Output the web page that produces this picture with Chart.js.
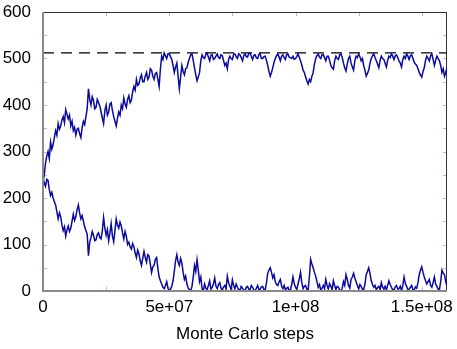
<!DOCTYPE html>
<html>
<head>
<meta charset="utf-8">
<script src="https://cdn.jsdelivr.net/npm/chart.js@4.4.1/dist/chart.umd.min.js"></script>
<style>
  html, body { margin: 0; padding: 0; background: #fff; }
  #wrap { width: 457px; height: 349px; }
</style>
</head>
<body>
<div id="wrap"><canvas id="c" width="457" height="349"></canvas></div>
<script>
// Monte Carlo run: two traces recorded every half million steps
const sampleInterval = 5e5;
const xMax = 1.6e8;
const saturation = 512;

const upper = [
  262,250,275,290,300,285,320,305,315,330,345,335,360,348,355,368,375,362,390,380,
  370,378,355,365,345,352,335,348,350,338,330,352,365,358,375,392,435,412,400,418,
  410,392,395,412,405,398,385,372,360,388,400,378,385,402,405,388,375,365,355,372,
  385,378,400,392,415,402,395,412,420,405,410,428,440,432,455,442,445,458,465,450,
  450,462,470,455,460,478,475,462,455,468,470,455,440,478,505,498,512,506,500,510,
  510,504,498,485,470,482,490,462,435,460,485,472,465,478,480,492,500,508,510,496,
  480,465,452,460,470,495,508,502,500,509,512,503,495,507,508,498,500,505,510,502,
  500,508,506,496,485,490,478,498,505,500,498,509,510,504,500,510,508,502,495,506,
  510,504,503,511,512,505,498,507,508,501,500,509,510,500,500,504,505,496,485,472,
  462,470,480,492,500,506,510,503,495,505,508,502,498,508,510,503,502,500,505,498,
  500,504,510,502,495,486,475,470,460,452,445,455,450,462,470,488,500,506,510,503,
  500,508,508,502,495,505,505,496,485,480,477,495,505,500,498,508,510,502,490,480,
  473,488,500,505,490,482,475,495,505,502,510,504,495,500,485,475,462,468,475,490,
  500,506,510,502,495,488,480,496,505,500,498,490,482,496,505,502,510,505,498,506,
  508,502,495,490,482,498,505,500,510,505,498,506,508,500,492,488,485,478,470,465,
  460,472,480,496,505,500,495,506,510,498,485,496,505,500,495,485,470,478,462,470,
  480];

const lower = [
  245,232,225,240,238,218,205,212,200,192,185,170,155,168,160,142,130,138,118,132,
  140,128,135,150,165,152,160,175,185,168,155,162,150,138,130,122,76,105,115,128,
  120,108,110,122,125,115,112,130,158,135,120,132,108,125,145,118,106,130,155,142,
  135,148,140,125,112,128,118,100,105,95,90,102,95,82,72,88,80,65,55,70,
  85,72,62,78,75,58,40,52,55,68,72,48,30,22,15,8,5,12,20,6,
  0,4,10,22,42,65,78,62,55,70,60,40,25,32,15,6,3,0,10,30,
  55,42,67,45,20,30,5,0,15,6,3,12,22,4,8,15,28,10,5,14,
  18,6,2,9,12,4,32,18,10,3,24,12,5,15,8,3,2,10,6,2,
  0,8,10,4,3,12,8,2,0,6,12,3,4,9,10,3,2,18,38,45,
  50,40,28,35,20,14,12,20,25,10,5,12,2,6,8,0,3,14,30,16,
  8,3,15,26,40,18,5,10,12,4,3,30,68,58,50,40,32,20,8,14,
  2,6,12,5,25,12,4,16,10,3,22,12,3,10,8,2,0,6,20,12,
  35,25,12,6,25,30,38,28,20,12,5,14,10,4,2,15,35,42,50,38,
  22,14,8,12,3,7,10,3,18,8,4,10,2,12,22,14,8,2,3,9,
  12,4,5,10,0,12,30,16,10,3,4,8,12,3,2,9,6,18,35,45,
  52,40,30,22,15,20,25,12,8,18,30,15,10,4,3,20,45,38,35,20,
  10];

const xTickValues = [0, 5e7, 1e8, 1.5e8];
const xTickLabels = ['0', '5e+07', '1e+08', '1.5e+08'];
const yTickValues = [0, 100, 200, 300, 400, 500, 600];
const xAxisTitle = 'Monte Carlo steps';

const toPoints = arr => arr.map((v, i) => ({ x: i * sampleInterval, y: v }));

const FONT = '"Liberation Sans", Arial, Helvetica, sans-serif';

// small inward ticks in magenta plus the plot border
const framePlugin = {
  id: 'frame',
  beforeDatasetsDraw(chart) {
    const { ctx, chartArea: a, scales } = chart;
    ctx.save();
    ctx.strokeStyle = '#ee9fe6';
    ctx.lineWidth = 1;
    const tl = 4;
    for (let v = 0; v <= 600; v += 50) {
      const py = Math.round(scales.y.getPixelForValue(v)) + 0.5;
      ctx.beginPath();
      ctx.moveTo(a.left, py); ctx.lineTo(a.left + tl, py);
      ctx.moveTo(a.right, py); ctx.lineTo(a.right - tl, py);
      ctx.stroke();
    }
    for (let v = 0; v <= xMax; v += 2.5e7) {
      const px = Math.round(scales.x.getPixelForValue(v)) + 0.5;
      ctx.beginPath();
      ctx.moveTo(px, a.bottom); ctx.lineTo(px, a.bottom - tl);
      ctx.moveTo(px, a.top); ctx.lineTo(px, a.top + tl);
      ctx.stroke();
    }
    ctx.strokeStyle = '#333';
    ctx.beginPath();
    ctx.moveTo(a.left, a.top + 0.5); ctx.lineTo(a.right, a.top + 0.5);
    ctx.moveTo(a.right - 0.5, a.top); ctx.lineTo(a.right - 0.5, a.bottom);
    ctx.stroke();
    ctx.restore();
  },
  afterDatasetsDraw(chart) {
    const { ctx, chartArea: a } = chart;
    ctx.save();
    ctx.strokeStyle = '#8a8a8a';
    ctx.lineWidth = 2;
    ctx.beginPath();
    ctx.moveTo(a.left, a.top); ctx.lineTo(a.left, a.bottom);
    ctx.lineTo(a.right, a.bottom);
    ctx.stroke();
    ctx.restore();
  }
};

new Chart(document.getElementById('c'), {
  type: 'line',
  data: {
    datasets: [
      { data: toPoints(upper), borderColor: '#0a0a9c', borderWidth: 1.5, pointRadius: 0, tension: 0 },
      { data: toPoints(lower), borderColor: '#0a0a9c', borderWidth: 1.5, pointRadius: 0, tension: 0 },
      { data: [{ x: 0, y: saturation }, { x: xMax, y: saturation }], borderColor: '#000', borderWidth: 1.4,
        borderDash: [11, 7], pointRadius: 0 }
    ]
  },
  options: {
    responsive: false,
    animation: false,
    devicePixelRatio: 1,
    layout: { padding: { top: 12, right: 10, left: 0, bottom: 0 } },
    plugins: { legend: { display: false }, tooltip: { enabled: false } },
    scales: {
      x: {
        type: 'linear', min: 0, max: xMax,
        afterBuildTicks: s => { s.ticks = xTickValues.map(v => ({ value: v })); },
        afterFit: s => { s.height = 58; s.paddingLeft = 0; s.paddingRight = 0; },
        ticks: {
          autoSkip: false, maxRotation: 0, padding: 6, color: '#000',
          font: { family: FONT, size: 17 },
          callback: v => xTickLabels[xTickValues.indexOf(v)]
        },
        grid: { display: false, drawTicks: false },
        border: { display: false },
        title: { display: true, text: xAxisTitle, color: '#000', font: { family: FONT, size: 17 }, padding: { top: 4 } }
      },
      y: {
        min: 0, max: 600,
        afterBuildTicks: s => { s.ticks = yTickValues.map(v => ({ value: v })); },
        afterFit: s => { s.width = 43; s.paddingTop = 0; s.paddingBottom = 0; },
        ticks: { padding: 12, color: '#000', font: { family: FONT, size: 17 } },
        grid: { display: false, drawTicks: false },
        border: { display: false }
      }
    }
  },
  plugins: [framePlugin]
});
</script>
</body>
</html>
